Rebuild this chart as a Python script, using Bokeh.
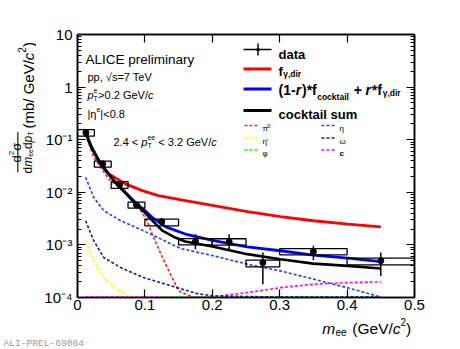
import math
from bokeh.plotting import figure
from bokeh.layouts import row, column
from bokeh.models import (Label, BoxAnnotation, FixedTicker, LinearAxis, LogAxis,
                          CustomJSTickFormatter)
from bokeh.embed import file_html
from bokeh.resources import INLINE

# ---------------- data ----------------
bin_lo = [0.0, 0.025, 0.05, 0.075, 0.10, 0.15, 0.20, 0.25, 0.30, 0.40]
bin_hi = [0.025, 0.05, 0.075, 0.10, 0.15, 0.20, 0.25, 0.30, 0.40, 0.50]
m_ee = [0.0125, 0.0375, 0.0625, 0.0875, 0.125, 0.175, 0.225, 0.275, 0.35, 0.45]
yield_ee = [0.136, 0.0348, 0.0140, 0.00575, 0.00276, 0.00116, 0.00114, 0.00046, 0.00075, 0.00050]
stat_lo = [0.128, 0.0330, 0.0131, 0.0053, 0.00250, 0.00083, 0.00083, 0.000179, 0.000513, 0.000257]
stat_hi = [0.144, 0.0366, 0.0149, 0.0062, 0.00305, 0.00160, 0.00160, 0.000716, 0.000962, 0.000716]
sys_lo = [0.117, 0.030, 0.0119, 0.0050, 0.0023, 0.00100, 0.00099, 0.000382, 0.000647, 0.000417]
sys_hi = [0.155, 0.039, 0.0160, 0.0065, 0.0031, 0.00132, 0.00131, 0.000513, 0.000853, 0.00056]

fdir_x = [0.012, 0.02, 0.034, 0.046, 0.071, 0.096, 0.120, 0.160, 0.202, 0.252, 0.301, 0.350, 0.401, 0.450]
fdir_y = [0.138, 0.076, 0.0353, 0.0227, 0.01446, 0.01077, 0.00865, 0.00695, 0.00557, 0.00428, 0.00344, 0.00288, 0.00249, 0.00221]

mix_x = [0.012, 0.02, 0.034, 0.056, 0.0875, 0.10, 0.111, 0.131, 0.160, 0.202, 0.252, 0.301, 0.350, 0.401, 0.450]
mix_y = [0.138, 0.075, 0.0348, 0.0155, 0.0061, 0.0045, 0.0033, 0.0022, 0.00161, 0.00120, 0.00092, 0.000774, 0.000639, 0.00056, 0.000483]

cock_x = [0.012, 0.02, 0.034, 0.056, 0.0875, 0.10, 0.111, 0.126, 0.145, 0.160, 0.202, 0.252, 0.301, 0.350, 0.401, 0.450]
cock_y = [0.138, 0.075, 0.0353, 0.0155, 0.0058, 0.0041, 0.00289, 0.00186, 0.00138, 0.00116, 0.00092, 0.000667, 0.000535, 0.000441, 0.000399, 0.000355]

pi0_x = [0.012, 0.024, 0.046, 0.071, 0.091, 0.103, 0.113, 0.126, 0.138, 0.150, 0.171, 0.20]
pi0_y = [0.125, 0.0466, 0.0180, 0.0100, 0.00518, 0.00288, 0.00138, 0.000575, 0.000277, 0.000133, 1.02e-4, 1.02e-4]

eta_x = [0.012, 0.024, 0.039, 0.064, 0.098, 0.153, 0.202, 0.252, 0.301, 0.351, 0.400, 0.450]
eta_y = [0.0193, 0.00803, 0.00448, 0.00288, 0.00186, 0.000853, 0.000619, 0.000430, 0.000321, 0.000222, 0.000154, 0.000102]

omega_x = [0.012, 0.024, 0.039, 0.064, 0.098, 0.148, 0.178, 0.202, 0.30, 0.45]
omega_y = [0.00288, 0.00120, 0.000575, 0.000371, 0.000239, 0.000154, 0.000118, 0.000107, 1.02e-4, 1.02e-4]

etap_x = [0.012, 0.024, 0.039, 0.059, 0.079, 0.12]
etap_y = [0.00120, 0.000498, 0.000239, 0.000143, 1.02e-4, 1.02e-4]

phi_x = [0.124, 0.45]
phi_y = [1.02e-4, 1.02e-4]

charm_x = [0.012, 0.12, 0.197, 0.252, 0.301, 0.351, 0.400, 0.450]
charm_y = [1.02e-4, 1.02e-4, 1.02e-4, 1.24e-4, 1.54e-4, 1.79e-4, 1.92e-4, 1.98e-4]

x_tick_values = [0.0, 0.1, 0.2, 0.3, 0.4, 0.5]
x_tick_labels = ["0", "0.1", "0.2", "0.3", "0.4", "0.5"]
y_tick_values = [1e-4, 1e-3, 1e-2, 1e-1, 1.0, 10.0]
y_tick_labels = ["10\u207b\u2074", "10\u207b\u00b3", "10\u207b\u00b2", "10\u207b\u00b9", "1", "10"]

# ---------------- figures ----------------
FONT = "Liberation Sans"
YL_W = 36
MAIN_H = 316
TOTAL_W, TOTAL_H = 460, 349

p = figure(width=TOTAL_W - YL_W, height=MAIN_H, x_range=(0, 0.5), y_range=(1e-4, 10),
           y_axis_type="log", output_backend="svg", toolbar_location=None,
           min_border_left=41, min_border_right=46, min_border_top=34, min_border_bottom=19)
p.grid.visible = False
p.outline_line_color = "black"
p.outline_line_width = 1.5
p.background_fill_color = "white"
p.border_fill_color = "white"


def strip(w, h):
    f = figure(width=w, height=h, x_range=(0, 1), y_range=(0, 1), output_backend="svg",
               toolbar_location=None, min_border=0, x_axis_type=None, y_axis_type=None,
               title=None)
    f.outline_line_color = None
    f.background_fill_color = "white"
    f.border_fill_color = "white"
    f.grid.visible = False
    return f

ylab = strip(YL_W, MAIN_H)
xlab = strip(TOTAL_W, TOTAL_H - MAIN_H)

# (figure, frame-left page x, frame-bottom page y); the y strip's frame is
# aligned with the main frame by the row layout (page y 34..297)
T_MAIN = (p, 77, 297)
T_YLAB = (ylab, 0, 297)
T_XLAB = (xlab, 0, TOTAL_H)

minor = [k * 10.0 ** e for e in range(-4, 1) for k in range(2, 10)]
yticker = FixedTicker(ticks=y_tick_values, minor_ticks=minor)
xticker = FixedTicker(ticks=x_tick_values, minor_ticks=[])

xfmt = CustomJSTickFormatter(args=dict(tv=x_tick_values, tl=x_tick_labels), code="""
const i = tv.findIndex(t => Math.abs(t - tick) < 1e-9);
return i >= 0 ? tl[i] : "";
""")
yfmt = CustomJSTickFormatter(args=dict(tv=y_tick_values, tl=y_tick_labels), code="""
const i = tv.findIndex(t => Math.abs(t - tick) < 1e-6 * t);
return i >= 0 ? tl[i] : "";
""")
blank = CustomJSTickFormatter(code="return '';")


def style_axis(ax, ticker, fmt, minor_len):
    ax.ticker = ticker
    ax.formatter = fmt
    ax.axis_line_width = 1.5
    ax.major_tick_in = 8
    ax.major_tick_out = 0
    ax.minor_tick_in = minor_len
    ax.minor_tick_out = 0
    ax.major_tick_line_width = 1.2
    ax.minor_tick_line_width = 1.0
    ax.major_label_text_font = FONT
    ax.major_label_text_font_size = "15px"
    ax.major_label_text_color = "black"

style_axis(p.xaxis[0], xticker, xfmt, 0)
p.xaxis[0].major_label_standoff = 2
style_axis(p.yaxis[0], yticker, yfmt, 4)
p.yaxis[0].major_label_standoff = 5

top_ax = LinearAxis()
style_axis(top_ax, xticker, blank, 0)
p.add_layout(top_ax, "above")
right_ax = LogAxis()
style_axis(right_ax, yticker, blank, 4)
p.add_layout(right_ax, "right")

# ---------------- curves ----------------
dash = "3 2"
p.line(pi0_x, pi0_y, line_color="#ff2020", line_width=1.6, line_dash=dash)
p.line(etap_x, etap_y, line_color="#ffff00", line_width=1.6, line_dash=dash)
p.line(charm_x, charm_y, line_color="#ff00ff", line_width=1.6, line_dash=dash)
p.line(phi_x, phi_y, line_color="#00ff00", line_width=1.6, line_dash=dash)
p.line(omega_x, omega_y, line_color="#1a1a99", line_width=1.6, line_dash=dash)
p.line(eta_x, eta_y, line_color="#2040ff", line_width=1.6, line_dash=dash)

p.line(fdir_x, fdir_y, line_color="#ff0000", line_width=2.8)
p.line(mix_x, mix_y, line_color="#0000ff", line_width=2.8)
p.line(cock_x, cock_y, line_color="black", line_width=2.6)

# ---------------- data ----------------
p.quad(left=bin_lo, right=bin_hi, bottom=sys_lo, top=sys_hi,
       fill_color=None, line_color="black", line_width=1.3)
p.segment(x0=m_ee, y0=stat_lo, x1=m_ee, y1=stat_hi, line_color="black", line_width=1.5)
p.scatter(m_ee, yield_ee, size=6, color="black")

# ---------------- text helpers ----------------
W = {' ': 278, '!': 278, '(': 333, ')': 333, '*': 389, '+': 584, ',': 278, '-': 333,
     '.': 278, '/': 278, '<': 584, '=': 584, '>': 584, '|': 260, "'": 191,
     'A': 667, 'C': 722, 'E': 667, 'G': 778, 'I': 278, 'L': 556, 'T': 611, 'V': 667,
     'a': 556, 'b': 556, 'c': 500, 'd': 556, 'e': 556, 'f': 278, 'i': 222, 'k': 500,
     'l': 222, 'm': 833, 'n': 556, 'o': 556, 'p': 556, 'r': 333, 's': 500, 't': 278,
     'u': 556, 'y': 500, '\u03b3': 500, '\u03b7': 556, '\u03c3': 571, '\u03c0': 600,
     '\u03c9': 720, '\u03c6': 650, '\u221a': 549}
WB = {' ': 278, '(': 333, ')': 333, '*': 389, '+': 584, ',': 278, '-': 333, '1': 556,
      'a': 556, 'c': 556, 'd': 611, 'f': 333, 'i': 278, 'k': 556, 'l': 278, 'm': 889,
      'o': 611, 'r': 389, 's': 556, 't': 333, 'u': 611, 'y': 556, '\u03b3': 556}


def tw(s, size, style):
    tbl = WB if "bold" in style else W
    return sum(tbl.get(c, 556) for c in s) * size / 1000.0


def put(tgt, X, Y, text, size, style="normal", color="black", angle=0.0,
        align="left", baseline="alphabetic", font=FONT):
    fig, fl, fb = tgt
    fig.add_layout(Label(x=X - fl, y=fb - Y, x_units="screen", y_units="screen",
                         text=text, text_font=font, text_font_size=f"{size}px",
                         text_font_style=style, text_color=color, text_align=align,
                         text_baseline=baseline, angle=angle))


def hbar(tgt, X1, X2, Y1, Y2, color, alpha=1.0):
    fig, fl, fb = tgt
    fig.add_layout(BoxAnnotation(left=X1 - fl, right=X2 - fl, top=fb - Y1, bottom=fb - Y2,
                                 left_units="screen", right_units="screen",
                                 top_units="screen", bottom_units="screen",
                                 fill_color=color, fill_alpha=alpha, line_alpha=0.0,
                                 level="overlay"))


def rich(tgt, X, Y, pieces, color="black", vertical=False):
    pos = 0.0
    for piece in pieces:
        text, size, style, shift = piece[:4]
        adv = piece[4] if len(piece) > 4 else tw(text, size, style)
        lead = len(text) - len(text.lstrip(" "))
        skip = tw(" " * lead, size, style)
        body = text.lstrip(" ")
        if vertical:
            put(tgt, X - shift, Y - pos - skip, body, size, style, color, angle=math.pi / 2)
        else:
            put(tgt, X + pos + skip, Y - shift, body, size, style, color)
        pos += adv


def dashes(X1, X2, Y, color):
    x = X1
    while x < X2:
        hbar(T_MAIN, x, min(x + 3, X2), Y - 0.8, Y + 0.8, color)
        x += 5

N, I, B, BI = "normal", "italic", "bold", "bold italic"
M = T_MAIN

# top-left texts
rich(M, 85, 59, [("ALICE preliminary", 13.5, N, 0)])
rich(M, 87, 76, [("pp, \u221as=7 TeV", 11, N, 0)])
rich(M, 87, 94, [("p", 11, I, 0), ("e", 7, N, 4.5, 0), ("T", 7, N, -3.5, 4.5),
                 (">0.2 GeV/", 11, N, 0), ("c", 11, I, 0)])
rich(M, 87, 113, [("|\u03b7", 11, N, 0), ("e", 7, N, 4.5), ("|<0.8", 11, N, 0)])
rich(M, 113, 141, [("2.4 < ", 11, N, 0), ("p", 11, I, 0), ("ee", 7, N, 4.5, 0),
                   ("T", 7, N, -3.5, 7.8), (" < 3.2 GeV/", 11, N, 0), ("c", 11, I, 0)])

# legend
hbar(M, 243, 271, 48.2, 49.8, "black")
hbar(M, 256.8, 258.2, 43, 55, "black")
put(M, 257.5, 49, "\u25cf", 8, align="center", baseline="middle")
rich(M, 278, 53.7, [("data", 13, B, 0)])
hbar(M, 243, 271, 67, 70, "#ff0000")
rich(M, 278, 70.5, [("f", 13, B, 0, 4.7), ("\u03b3,dir", 8.5, B, -3)])
hbar(M, 243, 271, 87, 90, "#0000ff")
rich(M, 278, 89, [("(1-", 14, B, 0, 17.3), ("r", 14, BI, 0, 6.2), (")*f", 14, B, 0, 15.2),
                  ("cocktail", 8.5, B, -7, 36.6), ("+", 14, B, 0, 11.7), ("r", 14, BI, 0, 6.2),
                  ("*f", 14, B, 0, 11), ("\u03b3,dir", 8.5, B, -3)])
hbar(M, 243, 271, 108.5, 111.5, "black")
rich(M, 278, 113.5, [("cocktail sum", 13, B, 0)])

dashes(244, 259, 125, "#ff2020")
rich(M, 262, 128, [("\u03c0", 8, N, 0), ("0", 5.5, N, 3)])
dashes(244, 259, 137.5, "#ffff00")
rich(M, 262, 140.5, [("\u03b7'", 8, N, 0)])
dashes(244, 259, 149.5, "#00ff00")
rich(M, 262, 152.5, [("\u03c6", 8, N, 0)])
dashes(321, 336, 125, "#2040ff")
rich(M, 339, 128, [("\u03b7", 8, N, 0)])
dashes(321, 336, 137.5, "#1a1a99")
rich(M, 339, 140.5, [("\u03c9", 8, N, 0)])
dashes(321, 336, 149.5, "#ff00ff")
rich(M, 339, 152.5, [("c", 8, B, 0)])

# x axis title
rich(T_XLAB, 321.7, 327.5, [("m", 15.5, I, 0, 13.3), ("ee", 10, N, -4, 12.5),
                            (" (GeV/", 15.5, N, 0), ("c", 15.5, I, 0), ("2", 10, N, 6.5),
                            (")", 15.5, N, 0)])
put(T_XLAB, 3, 343.3, "ALI-PREL-69064", 9.6, color="#9a9a9a", baseline="middle",
    font="Liberation Mono")

# y axis title (rotated)
rich(T_YLAB, 16, 162, [("d", 13, N, 0), ("2", 8, N, 5.5), ("\u03c3", 13, N, 0)], vertical=True)
hbar(T_YLAB, 16.8, 17.9, 131.7, 171.7, "black")
rich(T_YLAB, 27, 173, [("d", 12, N, 0), ("m", 12, I, 0), ("ee", 7, N, -3), ("d", 12, N, 0),
                       ("p", 12, I, 0), ("T", 7, N, -3)], vertical=True)
rich(T_YLAB, 27.5, 128, [("(mb/ GeV/", 15, N, 0), ("c", 15, I, 0), ("2", 10, N, 6),
                         (")", 15, N, 0)], vertical=True)

layout = column(row(ylab, p, spacing=0), xlab, spacing=0)
open("out.html", "w").write(file_html(layout, INLINE))
